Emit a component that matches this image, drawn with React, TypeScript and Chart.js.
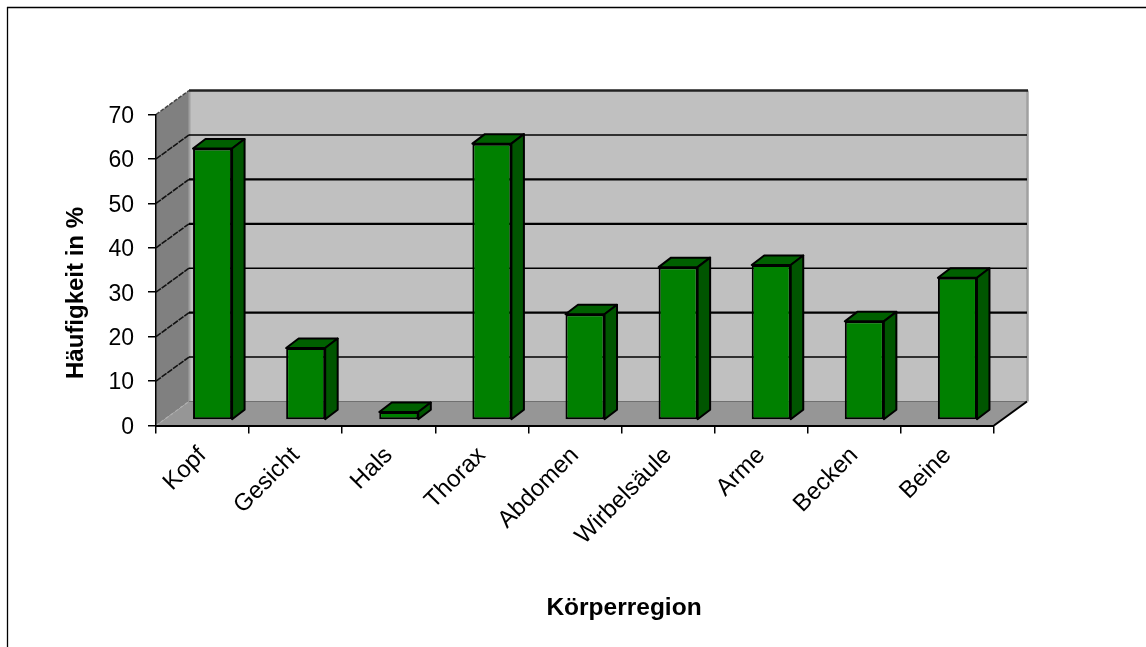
import React, { useEffect, useRef } from "react";
import { Chart, registerables } from "chart.js";

Chart.register(...registerables);

const regions = ["Kopf", "Gesicht", "Hals", "Thorax", "Abdomen", "Wirbelsäule", "Arme", "Becken", "Beine"];
const shares = [61.1, 16.2, 1.8, 62.2, 23.8, 34.4, 34.9, 22.2, 32];
const yTicks = [0, 10, 20, 30, 40, 50, 60, 70];
const gridWidths = [0, 1.5, 2.4, 1.5, 2.3, 2.3, 1.5, 0];

const FONT = '"Liberation Sans", Arial, sans-serif';
const WALL_DX = 33;
const WALL_DY = -24;
const BAR_SHIFT_X = 10;
const BAR_SHIFT_Y = -5.5;
const BAR_DEPTH_X = 12.5;
const BAR_DEPTH_Y = -9.5;

function poly(ctx: CanvasRenderingContext2D, pts: number[][], fill?: string, stroke?: string, lw = 1.5) {
  ctx.beginPath();
  pts.forEach(([x, y], i) => (i ? ctx.lineTo(x, y) : ctx.moveTo(x, y)));
  ctx.closePath();
  if (fill) {
    ctx.fillStyle = fill;
    ctx.fill();
  }
  if (stroke) {
    ctx.strokeStyle = stroke;
    ctx.lineWidth = lw;
    ctx.lineJoin = "round";
    ctx.stroke();
  }
}

function seg(ctx: CanvasRenderingContext2D, x1: number, y1: number, x2: number, y2: number, color: string, lw: number, dash: number[] = []) {
  ctx.beginPath();
  ctx.setLineDash(dash);
  ctx.moveTo(x1, y1);
  ctx.lineTo(x2, y2);
  ctx.strokeStyle = color;
  ctx.lineWidth = lw;
  ctx.stroke();
  ctx.setLineDash([]);
}

// Back wall, side wall and floor of the 3D box, plus the frame of the chart.
const boxPlugin = {
  id: "box3d",
  beforeDraw(chart: any) {
    const { ctx, chartArea: a, scales } = chart;
    const y = scales.y;
    const y0 = y.getPixelForValue(0);
    const yMax = y.getPixelForValue(70);
    const dx = WALL_DX;
    const dy = WALL_DY;
    ctx.save();
    seg(ctx, 7, 7.5, 1146, 7.5, "#000", 1.3);
    seg(ctx, 7.5, 7, 7.5, 647, "#000", 1.3);

    poly(ctx, [[a.left + dx, yMax + dy], [a.right + dx, yMax + dy], [a.right + dx, y0 + dy], [a.left + dx, y0 + dy]], "#c0c0c0");
    poly(ctx, [[a.left, yMax], [a.left + dx, yMax + dy], [a.left + dx, y0 + dy], [a.left, y0]], "#808080");
    poly(ctx, [[a.left, y0], [a.right, y0], [a.right + dx, y0 + dy], [a.left + dx, y0 + dy]], "#969696");

    seg(ctx, a.left + dx + 0.5, yMax + dy, a.left + dx + 0.5, y0 + dy, "#a0a0a0", 2);
    seg(ctx, a.right + dx + 0.5, yMax + dy, a.right + dx + 0.5, y0 + dy, "#a0a0a0", 2.5);
    seg(ctx, a.left + dx, y0 + dy, a.right + dx, y0 + dy, "#707070", 1.2);
    seg(ctx, a.left + dx, yMax + dy, a.right + dx + 1, yMax + dy, "#222", 2.5);
    seg(ctx, a.left, yMax, a.left + dx, yMax + dy, "#444", 1.5, [4, 1.5]);
    seg(ctx, a.left, y0, a.left + dx, y0 + dy, "#b0b0b0", 1.2, [3, 3]);
    seg(ctx, a.right, y0, a.right + dx, y0 + dy, "#000", 2);

    yTicks.forEach((v, i) => {
      if (!gridWidths[i]) return;
      const py = y.getPixelForValue(v);
      seg(ctx, a.left, py, a.left + dx, py + dy, "#111", 1.6, [6, 1]);
      seg(ctx, a.left + dx, py + dy, a.right + dx, py + dy, "#000", gridWidths[i]);
    });
    ctx.restore();
  },
  afterDraw(chart: any) {
    const { ctx } = chart;
    ctx.save();
    ctx.fillStyle = "#000";
    ctx.font = `bold 24.5px ${FONT}`;
    ctx.textAlign = "center";
    ctx.textBaseline = "middle";
    ctx.fillText("Körperregion", 624, 608);
    ctx.font = `bold 24px ${FONT}`;
    ctx.translate(76, 293);
    ctx.rotate(-Math.PI / 2);
    ctx.fillText("Häufigkeit in %", 0, 0);
    ctx.restore();
  },
};

// Shifts the bars off the front plane and adds their top and side faces.
const barDepthPlugin = {
  id: "barDepth",
  beforeDatasetDraw(chart: any) {
    const { ctx } = chart;
    ctx.save();
    ctx.translate(BAR_SHIFT_X, BAR_SHIFT_Y);
    chart.getDatasetMeta(0).data.forEach((bar: any) => {
      const l = bar.x - bar.width / 2;
      const r = bar.x + bar.width / 2;
      const t = bar.y;
      const b = bar.base;
      const dx = BAR_DEPTH_X;
      const dy = BAR_DEPTH_Y;
      poly(ctx, [[l, t], [r, t], [r + dx, t + dy], [l + dx, t + dy]], "#006000", "#000", 2);
      poly(ctx, [[r, t], [r + dx, t + dy], [r + dx, b + dy], [r, b]], "#005500", "#000", 2);
    });
  },
  afterDatasetDraw(chart: any) {
    chart.ctx.restore();
  },
};

export default function App() {
  const ref = useRef<HTMLCanvasElement>(null);

  useEffect(() => {
    const chart = new Chart(ref.current as HTMLCanvasElement, {
      type: "bar",
      data: {
        labels: regions,
        datasets: [
          {
            data: shares,
            backgroundColor: "#008000",
            borderColor: "#000",
            borderWidth: 2,
            borderSkipped: false,
            barPercentage: 39 / 93,
            categoryPercentage: 1,
          },
        ],
      },
      plugins: [boxPlugin, barDepthPlugin],
      options: {
        responsive: false,
        animation: false,
        layout: { padding: { left: 0, top: 114.5, right: 152, bottom: 0 } },
        plugins: { legend: { display: false }, tooltip: { enabled: false } },
        scales: {
          x: {
            offset: true,
            afterFit(s: any) {
              s.height = 221.5;
              s.paddingLeft = 0;
              s.paddingRight = 0;
            },
            grid: { offset: true, drawOnChartArea: false, color: "#000", tickLength: 8, lineWidth: 1.5 },
            border: { color: "#000", width: 2 },
            ticks: {
              color: "#000",
              font: { family: FONT, size: 24 },
              maxRotation: 45,
              minRotation: 45,
              padding: 8,
              autoSkip: false,
            },
          },
          y: {
            min: 0,
            max: 70,
            afterFit(s: any) {
              s.width = 156;
              s.paddingTop = 0;
              s.paddingBottom = 0;
            },
            grid: { drawOnChartArea: false, color: "#000", tickLength: 8, lineWidth: 1.5 },
            border: { color: "#000", width: 1.5 },
            ticks: {
              color: "#000",
              font: { family: FONT, size: 23 },
              stepSize: 10,
              padding: 14,
              labelOffset: 2,
            },
          },
        },
      },
    } as any);
    return () => chart.destroy();
  }, []);

  return (
    <div style={{ position: "absolute", left: 0, top: 0, width: 1146, height: 647, background: "#fff" }}>
      <canvas ref={ref} width={1146} height={647} style={{ display: "block" }} />
    </div>
  );
}
